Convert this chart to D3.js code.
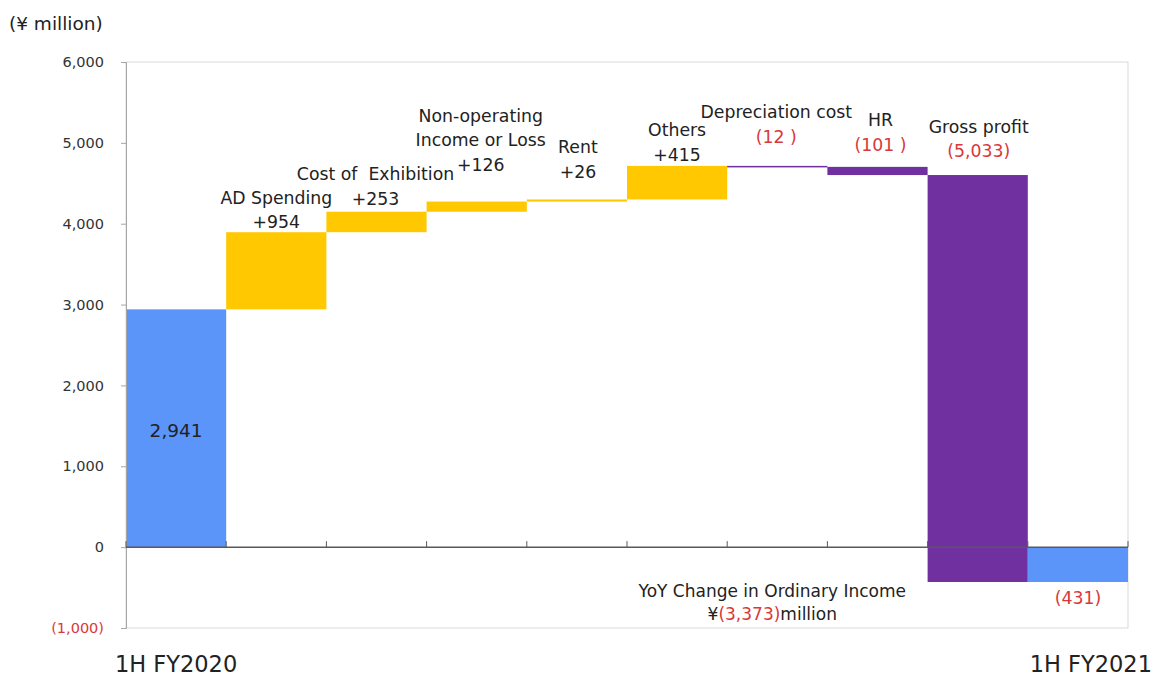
<!DOCTYPE html>
<html>
<head>
<meta charset="utf-8">
<script src="https://cdn.jsdelivr.net/npm/d3@7"></script>
<style>
	body { margin: 0; background: #fff; }
	text { font-family: "DejaVu Sans", "Noto Sans", sans-serif; fill: #222; white-space: pre; }
	.red { fill: #d9383a; }
</style>
</head>
<body>
<div id="chart"></div>
<script>
// waterfall steps, ¥ million
var categories = ["1H FY2020", "AD Spending", "Cost of Exhibition", "Non-operating", "Rent",
	"Others", "Depreciation cost", "HR", "Gross profit", "1H FY2021"];
var changes = [2941, 954, 253, 126, 26, 415, -12, -101, -5033, -431];
var kinds = ["total", "up", "up", "up", "up", "up", "down", "down", "down", "total"];
var yTicks = [-1000, 0, 1000, 2000, 3000, 4000, 5000, 6000];
var yTickLabels = ["(1,000)", "0", "1,000", "2,000", "3,000", "4,000", "5,000", "6,000"];

// label lines drawn above each step (black text, then the red/black value line)
var labelLines = [
	[],
	["AD Spending", "+954"],
	["Cost of  Exhibition", "+253"],
	["Non-operating", "Income or Loss", "+126"],
	["Rent", "+26"],
	["Others", "+415"],
	["Depreciation cost", "(12 )"],
	["HR", "(101 )"],
	["Gross profit", "(5,033)"],
	[]
];
var redValue = [false, false, false, false, false, false, true, true, true, false];

var colors = {total: "#5b95f9", up: "#ffc800", down: "#7030a0"};

var margin = {top: 62, right: 26, bottom: 49, left: 126},
	W = 1154, H = 677,
	width = W - margin.left - margin.right,
	height = H - margin.top - margin.bottom;

// running totals
var steps = [], run = 0;
changes.forEach((c, i) => {
	if (kinds[i] == "total" && i == 0) { steps.push({i: i, y0: 0, y1: c}); run = c; }
	else if (kinds[i] == "total") { steps.push({i: i, y0: 0, y1: run}); }
	else { steps.push({i: i, y0: run, y1: run + c}); run += c; }
});

var x = d3.scaleBand().domain(d3.range(categories.length)).range([0, width]).padding(0);
var y = d3.scaleLinear().domain([-1000, 6000]).range([height, 0]);

var svg = d3.select("#chart").append("svg")
		.attr("width", W)
		.attr("height", H);

svg.append("text")
		.attr("x", 9).attr("y", 30)
		.style("font-size", "18.5px")
		.text("(¥ million)");

var g = svg.append("g")
		.attr("transform", `translate(${margin.left}, ${margin.top})`);

// plot frame
g.append("rect")
		.attr("width", width).attr("height", height)
		.attr("fill", "none")
		.attr("stroke", "#d9d9d9");

g.selectAll(".bar")
		.data(steps)
	.enter().append("rect")
		.attr("class", "bar")
		.attr("x", d => x(d.i))
		.attr("width", x.bandwidth())
		.attr("y", d => y(Math.max(d.y0, d.y1)))
		.attr("height", d => Math.max(1.5, Math.abs(y(d.y0) - y(d.y1))))
		.attr("fill", d => colors[kinds[d.i]]);

// y axis
var yaxis = d3.axisLeft(y)
		.tickValues(yTicks)
		.tickSize(5)
		.tickFormat((d, i) => yTickLabels[i]);

var ya = g.append("g").call(yaxis);
ya.select(".domain").attr("stroke", "#a6a6a6");
ya.selectAll(".tick line").attr("stroke", "#a6a6a6");
ya.selectAll(".tick text")
		.attr("x", -22)
		.style("font-size", "14.5px")
		.style("font-family", "\"DejaVu Sans\", sans-serif")
		.style("fill", d => d < 0 ? "#d9383a" : "#333");

// zero line with category ticks
var zero = g.append("g").attr("transform", `translate(0, ${y(0)})`);
zero.append("line")
		.attr("x1", 0).attr("x2", width)
		.attr("stroke", "#595959").attr("stroke-width", 1.5);
zero.selectAll(".ztick")
		.data(d3.range(categories.length + 1))
	.enter().append("line")
		.attr("x1", d => d * x.step()).attr("x2", d => d * x.step())
		.attr("y1", -6).attr("y2", 0)
		.attr("stroke", "#595959");

// step labels
var labelOffsets = [0, -10, -13, -37, -28, -11, -29, -22, -24, 0];
var labelDx = [0, 0, -1, 4, 1, 0, -1, 3, 1, 0];
var lineGap = 24.5;

steps.forEach(d => {
	var lines = labelLines[d.i];
	if (!lines.length) return;
	var top = y(Math.max(d.y0, d.y1));
	var n = lines.length;
	lines.forEach((t, k) => {
		g.append("text")
				.attr("class", (k == n - 1 && redValue[d.i]) ? "red" : null)
				.attr("x", x(d.i) + x.bandwidth() / 2 + labelDx[d.i])
				.attr("y", top + labelOffsets[d.i] - (n - 1 - k) * lineGap)
				.attr("dy", "0.35em")
				.attr("text-anchor", "middle")
				.style("font-size", "17.3px")
				.text(t);
	});
});

// value on the first bar
g.append("text")
		.attr("x", x(0) + x.bandwidth() / 2)
		.attr("y", y(changes[0] / 2) + 2)
		.attr("dy", "0.35em")
		.attr("text-anchor", "middle")
		.style("font-size", "18.5px")
		.text("2,941");

// value under the last bar
var last = steps[steps.length - 1];
g.append("text")
		.attr("class", "red")
		.attr("x", x(last.i) + x.bandwidth() / 2)
		.attr("y", y(last.y1) + 16)
		.attr("dy", "0.35em")
		.attr("text-anchor", "middle")
		.style("font-size", "17.3px")
		.text("(431)");

// YoY note
var note = g.append("text")
		.attr("x", x(6) + x.bandwidth() / 2 - 5)
		.attr("y", y(-431) + 9)
		.attr("dy", "0.35em")
		.attr("text-anchor", "middle")
		.style("font-size", "17px");
note.append("tspan").text("YoY Change in Ordinary Income");
var note2 = g.append("text")
		.attr("x", x(6) + x.bandwidth() / 2 - 5)
		.attr("y", y(-431) + 32)
		.attr("dy", "0.35em")
		.attr("text-anchor", "middle")
		.style("font-size", "17px");
note2.append("tspan").text("¥");
note2.append("tspan").attr("class", "red").text("(3,373)");
note2.append("tspan").text("million");

// period labels
svg.append("text")
		.attr("x", margin.left + x(0) + x.bandwidth() / 2)
		.attr("y", 672)
		.attr("text-anchor", "middle")
		.style("font-size", "22.5px")
		.text(categories[0]);
svg.append("text")
		.attr("x", 1152)
		.attr("y", 672)
		.attr("text-anchor", "end")
		.style("font-size", "22.5px")
		.text(categories[categories.length - 1]);
</script>
</body>
</html>
